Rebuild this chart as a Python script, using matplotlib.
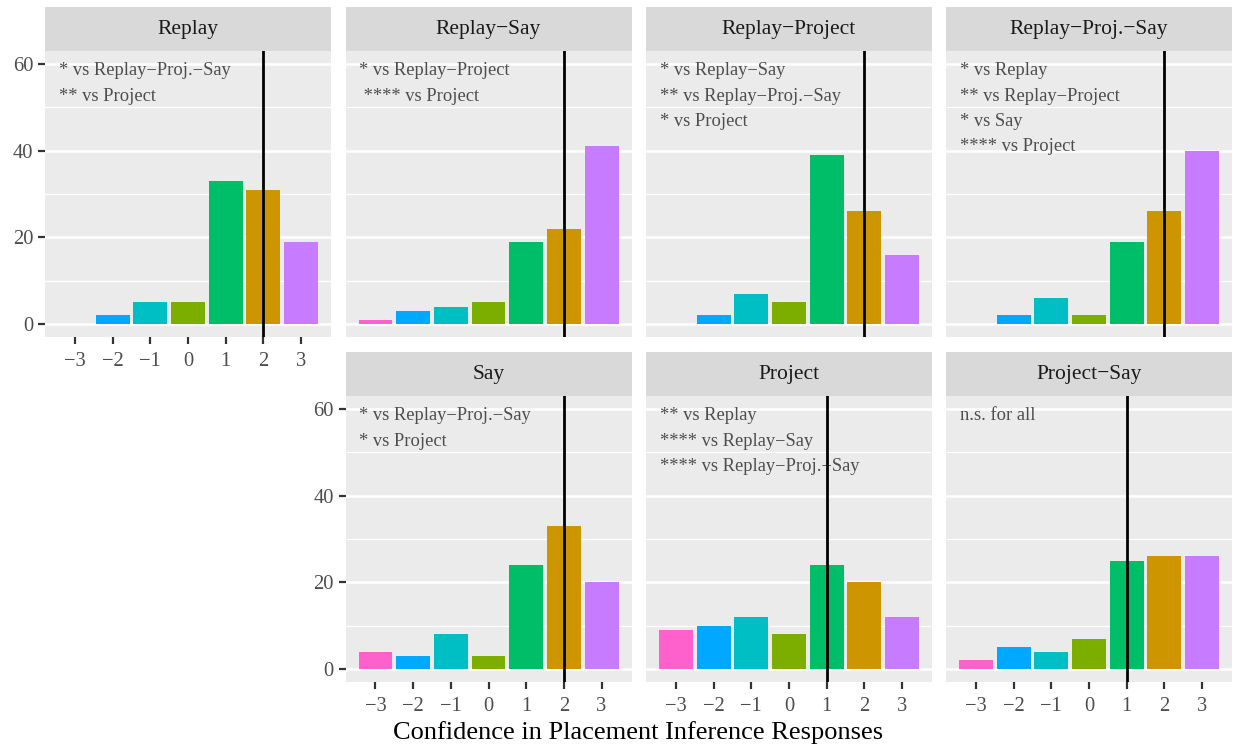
import matplotlib
matplotlib.use("Agg")
import matplotlib.pyplot as plt
from matplotlib.ticker import FixedLocator

plt.rcParams['font.family'] = ['Liberation Serif', 'DejaVu Serif']

# Confidence levels and their fill colours
levels = [-3, -2, -1, 0, 1, 2, 3]
level_labels = ["\u22123", "\u22122", "\u22121", "0", "1", "2", "3"]
level_colors = ["#FF61CC", "#00A9FF", "#00BFC4", "#7CAE00", "#00BE67", "#CD9600", "#C77CFF"]

# Response counts per condition
conditions = ["Replay", "Replay\u2212Say", "Replay\u2212Project", "Replay\u2212Proj.\u2212Say",
              "Say", "Project", "Project\u2212Say"]
counts_replay = [0, 2, 5, 5, 33, 31, 19]
counts_replay_say = [1, 3, 4, 5, 19, 22, 41]
counts_replay_project = [0, 2, 7, 5, 39, 26, 16]
counts_replay_proj_say = [0, 2, 6, 2, 19, 26, 40]
counts_say = [4, 3, 8, 3, 24, 33, 20]
counts_project = [9, 10, 12, 8, 24, 20, 12]
counts_project_say = [2, 5, 4, 7, 25, 26, 26]
counts = [counts_replay, counts_replay_say, counts_replay_project, counts_replay_proj_say,
          counts_say, counts_project, counts_project_say]

# Median confidence per condition
medians = [2, 2, 2, 2, 2, 1, 1]

# Pairwise significance notes
notes = [
    ["* vs Replay\u2212Proj.\u2212Say", "** vs Project"],
    ["* vs Replay\u2212Project", " **** vs Project"],
    ["* vs Replay\u2212Say", "** vs Replay\u2212Proj.\u2212Say", "* vs Project"],
    ["* vs Replay", "** vs Replay\u2212Project", "* vs Say", "**** vs Project"],
    ["* vs Replay\u2212Proj.\u2212Say", "* vs Project"],
    ["** vs Replay", "**** vs Replay\u2212Say", "**** vs Replay\u2212Proj.\u2212Say"],
    ["n.s. for all"],
]

y_major = [0, 20, 40, 60]
y_minor = [10, 30, 50]

W, H = 1235, 747
fig = plt.figure(figsize=(W / 100, H / 100), dpi=100)

col_left = [45, 345.5, 646, 946]
panel_w = 286
strip_h = 44
panel_h = 286
row_top = [7, 352]
# (row, col) of each facet
slots = [(0, 0), (0, 1), (0, 2), (0, 3), (1, 1), (1, 2), (1, 3)]
left_col_in_row = {0: 0, 1: 1}
bottom_slots = {(0, 0), (1, 1), (1, 2), (1, 3)}


def px_rect(x0, y0, w, h):
    return [x0 / W, 1 - (y0 + h) / H, w / W, h / H]


for i, (r, c) in enumerate(slots):
    x0 = col_left[c]
    top = row_top[r]
    # strip
    sax = fig.add_axes(px_rect(x0, top, panel_w, strip_h))
    sax.set_facecolor("#D9D9D9")
    sax.set_xticks([]); sax.set_yticks([])
    for s in sax.spines.values():
        s.set_visible(False)
    sax.text(0.5, 0.48, conditions[i], ha="center", va="center", fontsize=15.5,
             color="#1A1A1A", transform=sax.transAxes)

    ax = fig.add_axes(px_rect(x0, top + strip_h, panel_w, panel_h))
    ax.set_facecolor("#EBEBEB")
    for s in ax.spines.values():
        s.set_visible(False)
    ax.set_xlim(-3.795, 3.795)
    ax.set_ylim(-3, 63)
    for yv in y_minor:
        ax.axhline(yv, color="white", lw=0.9, zorder=0.5)
    for yv in y_major:
        ax.axhline(yv, color="white", lw=1.8, zorder=0.6)

    ax.bar(levels, counts[i], width=0.9, color=level_colors, zorder=2)

    for k, line in enumerate(notes[i]):
        ax.text(-3.43, 58.4 - 5.8 * k, line, ha="left", va="center", fontsize=13.3,
                color="#4D4D4D", zorder=3)

    ax.axvline(medians[i], color="black", lw=2.0, zorder=4)

    ax.yaxis.set_major_locator(FixedLocator(y_major))
    ax.xaxis.set_major_locator(FixedLocator(levels))
    ax.tick_params(axis="both", colors="#333333", width=1.6, length=5,
                   labelcolor="#4D4D4D", labelsize=14.8, pad=3.5)
    ax.tick_params(axis="x", pad=5.5)
    if c == left_col_in_row[r]:
        ax.set_yticklabels([str(v) for v in y_major])
    else:
        ax.tick_params(axis="y", left=False, labelleft=False)
    if (r, c) in bottom_slots:
        ax.set_xticklabels(level_labels)
    else:
        ax.tick_params(axis="x", bottom=False, labelbottom=False)

fig.text(638 / W, 1 - 733 / H, "Confidence in Placement Inference Responses",
         ha="center", va="center", fontsize=19, color="black")

fig.savefig("out.png", dpi=100, facecolor="white")
